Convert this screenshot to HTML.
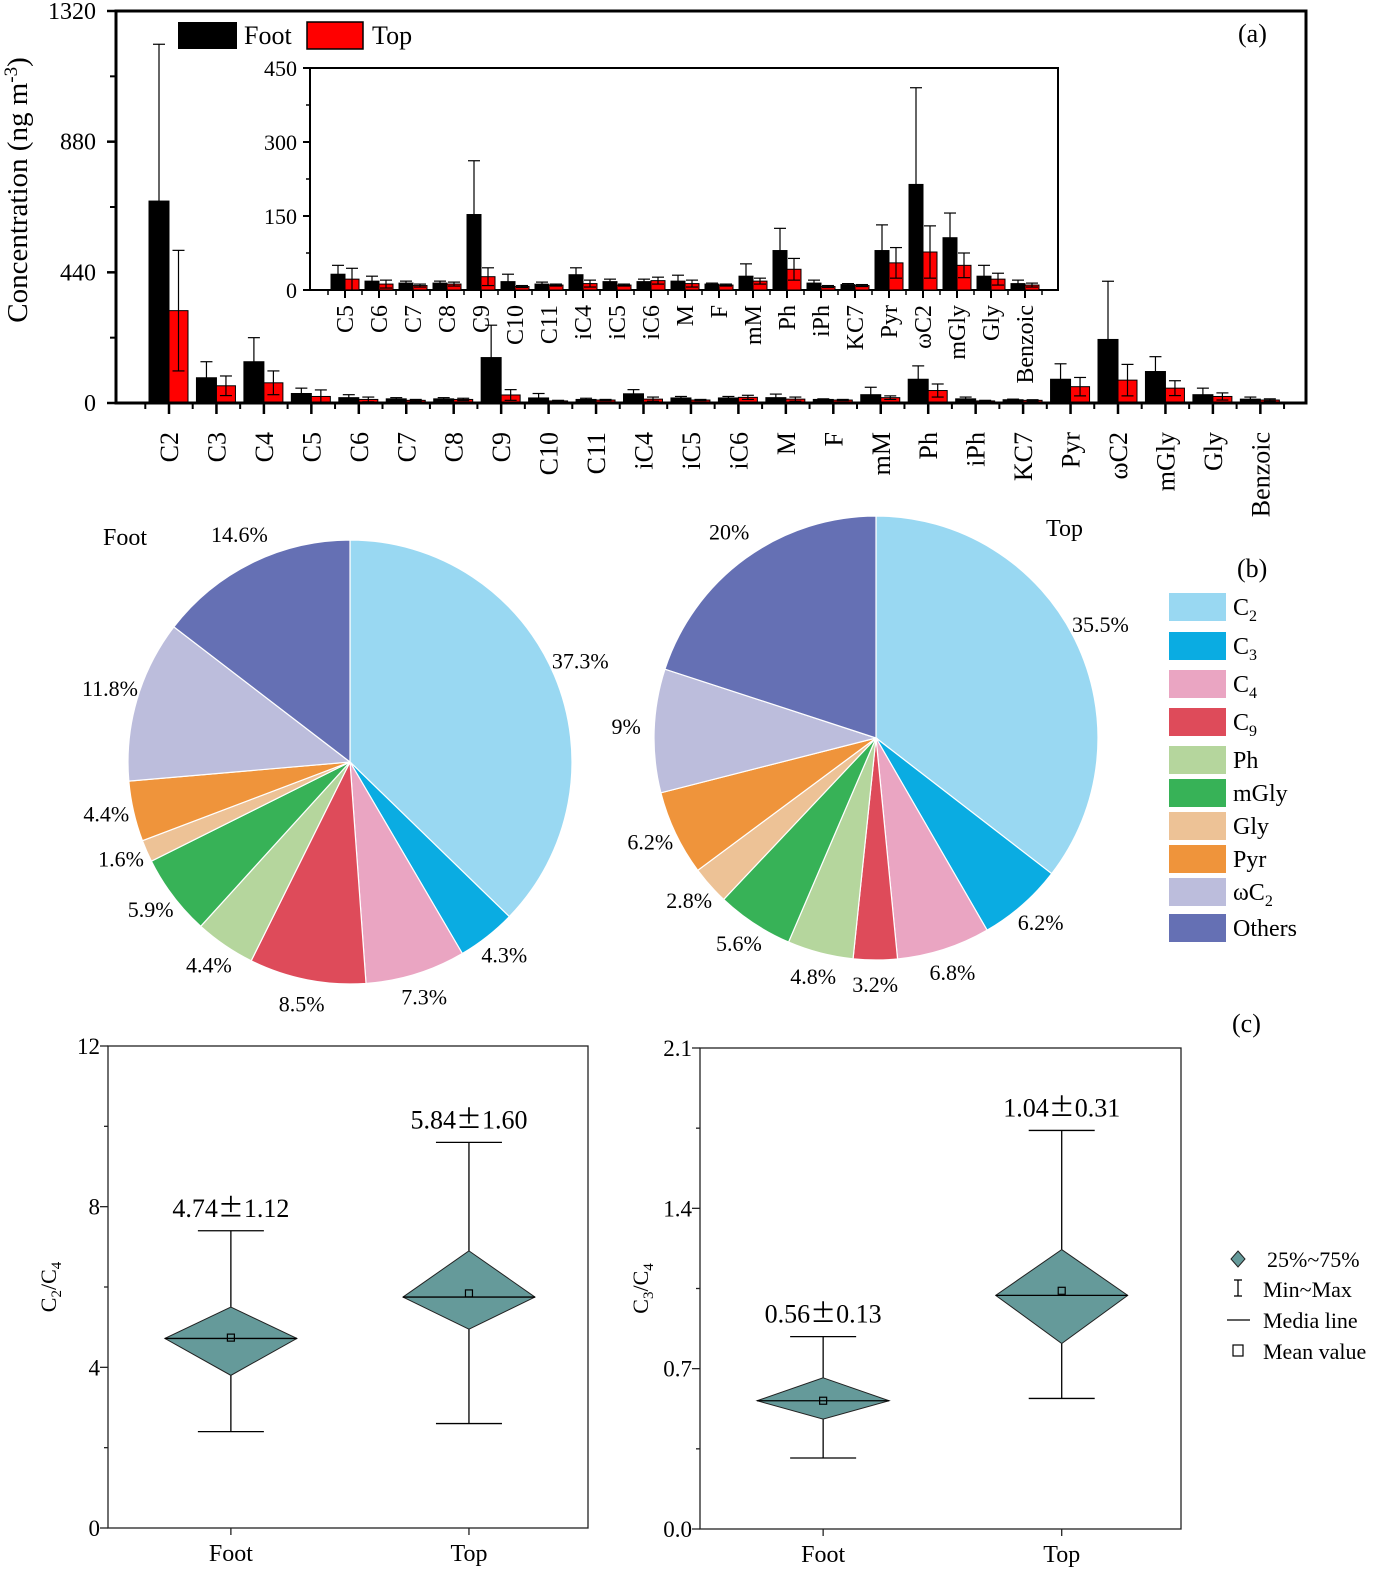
<!DOCTYPE html>
<html><head><meta charset="utf-8">
<style>
html,body{margin:0;padding:0;background:#fff;}
svg{display:block;font-family:"Liberation Serif",serif;}
</style></head>
<body>
<svg id="fig" width="1392" height="1576" viewBox="0 0 1392 1576" xmlns="http://www.w3.org/2000/svg"></svg>
<script>
// ---------- data ----------
const mainCats = ["C2","C3","C4","C5","C6","C7","C8","C9","C10","C11","iC4","iC5","iC6","M","F","mM","Ph","iPh","KC7","Pyr","ωC2","mGly","Gly","Benzoic"];
const insetCats = ["C5","C6","C7","C8","C9","C10","C11","iC4","iC5","iC6","M","F","mM","Ph","iPh","KC7","Pyr","ωC2","mGly","Gly","Benzoic"];
const footHead = [680,85,139];
const footHeadErr = [528,54,81];
const topHead = [311,58,68];
const topHeadErr = [203,33,40];
const footVals = [32,18,14,14,153,17,12,31,17,17,18,12,28,80,14,11,80,214,106,28,13];
const footErr = [18,10,4,4,109,15,4,14,5,5,12,2,25,45,6,2,52,196,50,22,7];
const topVals = [22,12,9,12,27,7,10,13,10,19,13,10,18,42,7,9,55,77,50,22,10];
const topErr = [22,8,3,4,18,2,2,7,2,7,7,2,6,22,2,2,31,53,25,12,4];
const mainTicks = [0,440,880,1320];
const insetTicks = [0,150,300,450];

const pieLabels = ["C2","C3","C4","C9","Ph","mGly","Gly","Pyr","ωC2","Others"];
const pieColors = ["#99d8f2","#0aace2","#eaa5c2","#de4b5a","#b5d69d","#37b257","#edc296","#ef943b","#bcbddc","#6570b4"];
const footPie = [37.3,4.3,7.3,8.5,4.4,5.9,1.6,4.4,11.8,14.6];
const topPie = [35.5,6.2,6.8,3.2,4.8,5.6,2.8,6.2,9,20];
const footPieText = ["37.3%","4.3%","7.3%","8.5%","4.4%","5.9%","1.6%","4.4%","11.8%","14.6%"];
const topPieText = ["35.5%","6.2%","6.8%","3.2%","4.8%","5.6%","2.8%","6.2%","9%","20%"];

const boxGroups = ["Foot","Top"];
const c2c4Median = [4.72,5.75];
const c2c4Mean = [4.74,5.84];
const c2c4Q1 = [3.8,4.95];
const c2c4Q3 = [5.5,6.9];
const c2c4Min = [2.4,2.6];
const c2c4Max = [7.4,9.6];
const c2c4Text = [["4.74","1.12"],["5.84","1.60"]];
const c2c4Ticks = [0,4,8,12];
const c3c4Median = [0.56,1.02];
const c3c4Mean = [0.56,1.04];
const c3c4Q1 = [0.48,0.81];
const c3c4Q3 = [0.66,1.22];
const c3c4Min = [0.31,0.57];
const c3c4Max = [0.84,1.74];
const c3c4Text = [["0.56","0.13"],["1.04","0.31"]];
const c3c4Ticks = ["0.0","0.7","1.4","2.1"];

// ---------- helpers ----------
const NS="http://www.w3.org/2000/svg";
const svg=document.getElementById('fig');
function el(tag,attrs,parent,txt){const e=document.createElementNS(NS,tag);for(const k in attrs)e.setAttribute(k,attrs[k]);if(txt!==undefined)e.textContent=txt;(parent||svg).appendChild(e);return e;}
function line(x1,y1,x2,y2,w,p,c){return el('line',{x1,y1,x2,y2,stroke:c||'#000','stroke-width':w},p);}

// ---------- (a) main bar chart ----------
const gA=el('g',{});


const mX0=116,mX1=1306,mY0=403,mY1=11;
const my=v=>mY0-v*(mY0-mY1)/1320;
const mx=i=>169+i*47.45;
const mainFoot=footHead.concat(footVals), mainFootErr=footHeadErr.concat(footErr);
const mainTop=topHead.concat(topVals), mainTopErr=topHeadErr.concat(topErr);
function bar(p,cx,v,e,color,name,yf,w){
  const r=el('rect',{x:cx,y:yf(v),width:w,height:Math.max(0,yf(0)-yf(v)),fill:color,stroke:'#000','stroke-width':1},p);
  
  
  const cxm=cx+w/2;
  line(cxm,yf(v+e),cxm,yf(Math.max(0,v-e)),1.2,p);
  line(cxm-6,yf(v+e),cxm+6,yf(v+e),1.2,p);
  if(color!=='#000')line(cxm-6,yf(Math.max(0,v-e)),cxm+6,yf(Math.max(0,v-e)),1.2,p);
}
mainCats.forEach((c,i)=>{
  bar(gA,mx(i)-20,mainFoot[i],mainFootErr[i],'#000','bar-foot-'+c,my,20);
  bar(gA,mx(i),mainTop[i],mainTopErr[i],'#f00','bar-top-'+c,my,19);
  line(mx(i),mY0,mx(i),mY0+11,2.5,gA);
  line(mx(i)+23.7,mY0,mx(i)+23.7,mY0+6,2,gA);
  const t=el('text',{x:0,y:0,transform:`translate(${mx(i)+9},432) rotate(-90)`,'text-anchor':'end','font-size':26},gA,c);
  
  
});
line(mx(0)-23.7,mY0,mx(0)-23.7,mY0+6,2,gA);
el('rect',{x:mX0,y:mY1,width:mX1-mX0,height:mY0-mY1,fill:'none',stroke:'#000','stroke-width':3},gA);
mainTicks.forEach((t,i)=>{
  line(mX0,my(t),mX0-9,my(t),2.5,gA);
  if(i<3)line(mX0,my(t+220),mX0-6,my(t+220),2,gA);
  const tt=el('text',{x:96,y:my(t)+8,'text-anchor':'end','font-size':24},gA,String(t));
  
  
});
const yt=el('text',{x:0,y:0,transform:'translate(27,190) rotate(-90)','text-anchor':'middle','font-size':29},gA);


yt.innerHTML='Concentration (ng m<tspan dy="-10" font-size="19">-3</tspan><tspan dy="10">)</tspan>';
const lab=el('text',{x:1238,y:42,'font-size':26},gA,'(a)');


const lg=el('g',{},gA);


el('rect',{x:178,y:22,width:59,height:27,fill:'#000'},lg);
el('text',{x:244,y:44,'font-size':26},lg,'Foot');
el('rect',{x:307,y:22,width:56,height:27,fill:'#f00',stroke:'#000','stroke-width':1.5},lg);
el('text',{x:372,y:44,'font-size':26},lg,'Top');

// inset
const gI=el('g',{});


const iX0=310,iX1=1058,iY0=290,iY1=68;
const iy=v=>iY0-v*(iY0-iY1)/450;
const ix=i=>345+i*34;
el('rect',{x:iX0,y:iY1,width:iX1-iX0,height:iY0-iY1,fill:'#fff',stroke:'#000','stroke-width':2},gI);
insetCats.forEach((c,i)=>{
  bar(gI,ix(i)-14,footVals[i],footErr[i],'#000','inset-bar-foot-'+c,iy,14);
  bar(gI,ix(i),topVals[i],topErr[i],'#f00','inset-bar-top-'+c,iy,14);
  line(ix(i),iY0,ix(i),iY0+8,2,gI);
  line(ix(i)+17,iY0,ix(i)+17,iY0+5,1.5,gI);
  const t=el('text',{x:0,y:0,transform:`translate(${ix(i)+8},305) rotate(-90)`,'text-anchor':'end','font-size':24},gI,c);
  
  
});
line(ix(0)-17,iY0,ix(0)-17,iY0+5,1.5,gI);
insetTicks.forEach((t,i)=>{
  line(iX0,iy(t),iX0-7,iy(t),2,gI);
  if(i<3)line(iX0,iy(t+75),iX0-4,iy(t+75),1.5,gI);
  el('text',{x:297,y:iy(t)+8,'text-anchor':'end','font-size':22},gI,String(t));
});

// ---------- (b) pies ----------
function pie(cx,cy,r,vals,texts,name,lr){
  const g=el('g',{});
  
  
  const tot=vals.reduce((a,b)=>a+b,0);
  let a0=0;
  vals.forEach((v,i)=>{
    const a1=a0+v/tot*2*Math.PI;
    const x0=cx+r*Math.sin(a0),y0=cy-r*Math.cos(a0),x1=cx+r*Math.sin(a1),y1=cy-r*Math.cos(a1);
    const p=el('path',{d:`M${cx},${cy}L${x0},${y0}A${r},${r} 0 ${a1-a0>Math.PI?1:0} 1 ${x1},${y1}Z`,fill:pieColors[i],stroke:'#fff','stroke-width':1.2},g);
    
    
    const am=(a0+a1)/2;
    const t=el('text',{x:cx+lr*Math.sin(am),y:cy-lr*Math.cos(am)+4,'text-anchor':'middle','font-size':22},g,texts[i]);
    
    
    a0=a1;
  });
}
pie(350,762,222,footPie,footPieText,'pie-foot',250);
pie(876,738,222,topPie,topPieText,'pie-top',250);
el('text',{x:103,y:545,'font-size':24},svg,'Foot');
el('text',{x:1046,y:536,'font-size':24},svg,'Top');
el('text',{x:1237,y:577,'font-size':26},svg,'(b)');
const pl=el('g',{});


const legY=[593,632,670,708,746,779,812,845,878,914];
const legNames=['C<tspan dy="6" font-size="16">2</tspan>','C<tspan dy="6" font-size="16">3</tspan>','C<tspan dy="6" font-size="16">4</tspan>','C<tspan dy="6" font-size="16">9</tspan>','Ph','mGly','Gly','Pyr','ωC<tspan dy="6" font-size="16">2</tspan>','Others'];
pieLabels.forEach((l,i)=>{
  const r=el('rect',{x:1169,y:legY[i],width:57,height:28,fill:pieColors[i]},pl);
  
  
  const t=el('text',{x:1233,y:legY[i]+22,'font-size':24},pl);
  t.innerHTML=legNames[i];
});

// ---------- (c) box plots ----------
function boxPanel(x0,x1,y0,y1,maxV,ticks,med,mean,q1,q3,mn,mx_,txt,name,sub){
  const g=el('g',{});
  
  
  const yv=v=>y0-v*(y0-y1)/maxV;
  const gx=i=>x0+(x1-x0)*(i===0?0.256:0.752);
  el('rect',{x:x0,y:y1,width:x1-x0,height:y0-y1,fill:'none',stroke:'#222','stroke-width':1.3},g);
  ticks.forEach((t,i)=>{
    const v=parseFloat(t);
    line(x0,yv(v),x0-8,yv(v),1.3,g,'#222');
    if(i<ticks.length-1)line(x0,yv(v+maxV/6),x0-4,yv(v+maxV/6),1.3,g,'#222');
    el('text',{x:x0-8,y:yv(v)+8,'text-anchor':'end','font-size':23},g,String(t));
  });
  boxGroups.forEach((n,i)=>{
    const cx=gx(i),hw=66;
    line(cx,y0,cx,y0+7,1.3,g,'#222');
    el('text',{x:cx,y:y0+33,'text-anchor':'middle','font-size':24},g,n);
    line(cx,yv(mx_[i]),cx,yv(mn[i]),1.3,g);
    line(cx-33,yv(mx_[i]),cx+33,yv(mx_[i]),1.3,g);
    line(cx-33,yv(mn[i]),cx+33,yv(mn[i]),1.3,g);
    const d=el('path',{d:`M${cx},${yv(q3[i])}L${cx+hw},${yv(med[i])}L${cx},${yv(q1[i])}L${cx-hw},${yv(med[i])}Z`,fill:'#659a9a',stroke:'#222','stroke-width':1},g);
    
    
    line(cx-hw,yv(med[i]),cx+hw,yv(med[i]),1.3,g);
    el('rect',{x:cx-3.5,y:yv(mean[i])-3.5,width:7,height:7,fill:'none',stroke:'#000','stroke-width':1.2},g);
    const t=el('text',{x:cx,y:yv(mx_[i])-14,'text-anchor':'middle','font-size':26},g);
    t.innerHTML=`${txt[i][0]}<tspan font-family="'Noto Sans CJK SC',sans-serif">±</tspan>${txt[i][1]}`;
    
    
  });
  const tt=el('text',{x:0,y:0,transform:`translate(${x0-52},${(y0+y1)/2}) rotate(-90)`,'text-anchor':'middle','font-size':22},g);
  tt.innerHTML=`C<tspan dy="5" font-size="15">${sub}</tspan><tspan dy="-5">/C</tspan><tspan dy="5" font-size="15">4</tspan>`;
  
}
boxPanel(108,588,1528,1046,12,c2c4Ticks,c2c4Median,c2c4Mean,c2c4Q1,c2c4Q3,c2c4Min,c2c4Max,c2c4Text,'box-c2c4','2');
boxPanel(700,1181,1529,1048,2.1,c3c4Ticks,c3c4Median,c3c4Mean,c3c4Q1,c3c4Q3,c3c4Min,c3c4Max,c3c4Text,'box-c3c4','3');
el('text',{x:1232,y:1032,'font-size':26},svg,'(c)');
const bl=el('g',{});


el('path',{d:'M1238,1251L1245,1259L1238,1267L1231,1259Z',fill:'#659a9a',stroke:'#222','stroke-width':1},bl);
el('text',{x:1267,y:1267,'font-size':22},bl,'25%~75%');
line(1238,1280,1238,1296,1.3,bl);line(1234,1280,1242,1280,1.3,bl);line(1234,1296,1242,1296,1.3,bl);
el('text',{x:1263,y:1297,'font-size':22},bl,'Min~Max');
line(1227,1320,1250,1320,1.3,bl);
el('text',{x:1263,y:1328,'font-size':22},bl,'Media line');
el('rect',{x:1233,y:1345,width:10,height:11,fill:'none',stroke:'#000','stroke-width':1.2},bl);
el('text',{x:1263,y:1359,'font-size':22},bl,'Mean value');
</script>
</body></html>
